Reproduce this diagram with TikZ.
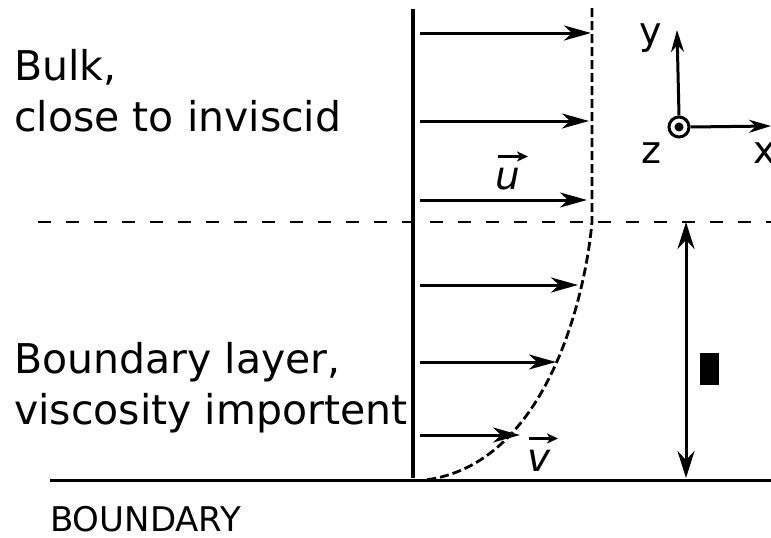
\documentclass[tikz,border=0pt]{standalone}
\usepackage{fontspec}
\setmainfont{DejaVu Sans}
\usetikzlibrary{arrows.meta,positioning}
\tikzset{flowarrow/.style={-{Stealth[length=27pt,width=15pt,inset=8pt]},line width=3pt},
vecbar/.style={-{Stealth[length=11pt,width=10pt,inset=3pt]},line width=3pt},
profileline/.style={dash pattern=on 9pt off 4pt,line width=2.8pt},
layerline/.style={dash pattern=on 13pt off 15pt,line width=2.2pt},
layertext/.style={font=\fontsize{41}{51}\selectfont,align=left,anchor=base west,inner sep=0pt},
veclabel/.style={font=\fontsize{39}{39}\selectfont\itshape,inner sep=0pt,anchor=base west},
axislabel/.style={font=\fontsize{38}{38}\selectfont,inner sep=0pt,anchor=base west}}
\begin{document}
\begin{tikzpicture}[x=1pt,y=-1pt]
\useasboundingbox (0,0) rectangle (771,538);
% wall, ground and edge of the layer
\coordinate (walltop) at (413,9);\coordinate (wallfoot) at (413,478);
\coordinate (groundL) at (50,480);\coordinate (groundR) at (771,480);
\coordinate (layerL) at (38,222);\coordinate (layerR) at (771,222);
\draw[line width=3.8pt] (walltop)--(wallfoot);
\draw[line width=3pt] (groundL)--(groundR);
\draw[layerline] (layerL)--(layerR);
% velocity profile
\coordinate (proftop) at (592,8);\coordinate (profknee) at (592,222);\coordinate (proffoot) at (425,480);
\draw[profileline] (proftop)--(profknee) .. controls (585,300) and (545,465) .. (proffoot);
% flow arrows
\foreach \y/\xe [count=\i] in {33/591,121/589,200/587,285/578,362/556,435/520}{
  \coordinate (s\i) at (420,\y);\coordinate (e\i) at (\xe,\y);
  \draw[flowarrow] (s\i)--(e\i);}
\node[veclabel] (ulab) at (495,189) {u};
\node[veclabel] (vlab) at (527,471) {v};
\draw[vecbar] ([xshift=3pt,yshift=11pt]ulab.north west)--([xshift=33pt,yshift=11pt]ulab.north west);
\draw[vecbar] ([xshift=2pt,yshift=11pt]vlab.north west)--([xshift=31pt,yshift=11pt]vlab.north west);
% thickness of the layer
\coordinate (thtop) at (686,222);\coordinate (thbot) at (686,478);
\draw[{Stealth[length=27pt,width=17pt,inset=9pt]}-{Stealth[length=27pt,width=17pt,inset=9pt]},line width=3pt] (thtop)--(thbot);
\fill (700,353) rectangle (719,385);
% axes
\node[circle,draw,line width=3pt,minimum size=20pt,inner sep=0pt] (orig) at (679,127) {};
\fill (orig.center) circle (4.5pt);
\coordinate (ytip) at (677,30);\coordinate (xtip) at (771,126);
\draw[flowarrow,-{Stealth[length=22pt,width=13pt,inset=7pt]}] (orig.north)--(ytip);
\draw[flowarrow,-{Stealth[length=22pt,width=13pt,inset=7pt]}] (orig.east)--(xtip);
\node[axislabel] (ylab) at (639,44) {y};
\node[axislabel] (zlab) at (641,163) {z};
\node[axislabel] (xlab) at (753,163) {x};
% texts
\node[layertext] (bulk) at (14,131) {Bulk,\\close to inviscid};
\node[layertext] (blayer) at (14,424) {Boundary layer,\\viscosity importent};
\node[layertext,font=\fontsize{34}{34}\selectfont] (bnd) at (50,531) {BOUNDARY};
\end{tikzpicture}
\end{document}
